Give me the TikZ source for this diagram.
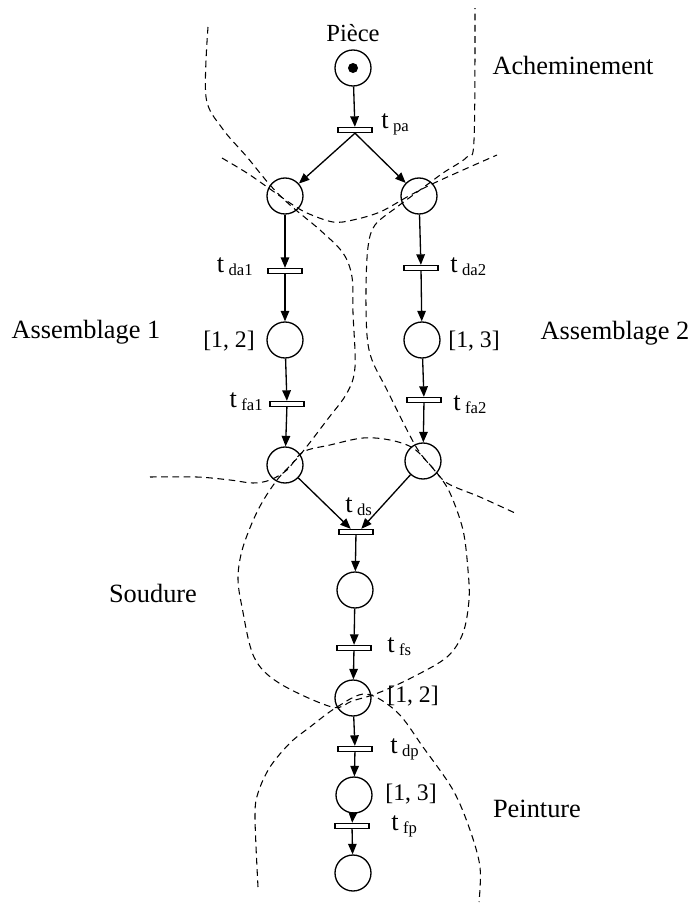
\documentclass[tikz,border=0pt]{standalone}
\usepackage{fontspec}
\setmainfont{Liberation Serif}
\usetikzlibrary{arrows.meta}
\tikzset{
  place/.style={circle, draw=black, line width=0.75pt, minimum size=0.72cm, inner sep=0pt},
  trans/.style={rectangle, draw=black, line width=0.75pt, minimum width=0.68cm, minimum height=0.1cm, inner sep=0pt},
  arr/.style={-{Triangle[length=2.1mm,width=1.7mm]}, line width=0.75pt},
  zone/.style={dash pattern=on 3.8pt off 2.6pt, line width=0.6pt},
  lab/.style={font=\fontsize{13.5}{15}\selectfont, inner sep=0pt},
  tlab/.style={font=\fontsize{15}{17}\selectfont, inner sep=0pt},
  region/.style={font=\fontsize{15}{18}\selectfont, inner sep=0pt},
}
\newcommand{\tname}[1]{t\,\raisebox{-0.3ex}{\fontsize{9.5}{10}\selectfont #1}}

\begin{document}
\begin{tikzpicture}[x=0.02cm, y=-0.02cm]
  \useasboundingbox (0,0) rectangle (691,903);
  % places
  \node[place] (p0) at (353,68) {};
  \fill (p0.center) circle[radius=0.1cm];
  \node[place] (pa1) at (285,196) {};
  \node[place] (pa2) at (419,196) {};
  \node[place] (pb1) at (285,340) {};
  \node[place] (pb2) at (422,340) {};
  \node[place] (pc1) at (285,465) {};
  \node[place] (pc2) at (423,461) {};
  \node[place] (ps) at (355,590) {};
  \node[place] (pq) at (353,698) {};
  \node[place] (pr) at (354,795) {};
  \node[place] (pe) at (353,873) {};
  % transitions
  \node[trans] (tpa) at (355,130) {};
  \node[trans] (tda1) at (285,271) {};
  \node[trans] (tda2) at (421,268) {};
  \node[trans] (tfa1) at (287,404) {};
  \node[trans] (tfa2) at (424,400) {};
  \node[trans] (tds) at (356,532) {};
  \node[trans] (tfs) at (354,648) {};
  \node[trans] (tdp) at (355,749) {};
  \node[trans] (tfp) at (352,826) {};
  % labels
  \node[lab, font=\fontsize{14}{16}\selectfont] (lp0) at (353,33) {Pièce};
  \node[tlab, anchor=base west] (ltpa) at (381,128) {\tname{pa}};
  \node[tlab, anchor=base east] (ltda1) at (253,272) {\tname{da1}};
  \node[tlab, anchor=base west] (ltda2) at (450,272) {\tname{da2}};
  \node[lab, anchor=east] (lpb1) at (255,341) {[1, 2]};
  \node[lab, anchor=west] (lpb2) at (448,341) {[1, 3]};
  \node[tlab, anchor=base east] (ltfa1) at (263,407) {\tname{fa1}};
  \node[tlab, anchor=base west] (ltfa2) at (453,410) {\tname{fa2}};
  \node[tlab, anchor=base west] (ltds) at (345,512) {\tname{ds}};
  \node[tlab, anchor=base west] (ltfs) at (387,652) {\tname{fs}};
  \node[lab, anchor=west] (lpq) at (387,696) {[1, 2]};
  \node[tlab, anchor=base west] (ltdp) at (390,753) {\tname{dp}};
  \node[lab, anchor=west] (lpr) at (385,794) {[1, 3]};
  \node[tlab, anchor=base west] (ltfp) at (391,830) {\tname{fp}};
  % regions
  \node[region] (rach) at (573,65) {Acheminement};
  \node[region] (ras1) at (86,332) {Assemblage 1};
  \node[region] (ras2) at (615,333) {Assemblage 2};
  \node[region] (rsou) at (153,593) {Soudure};
  \node[region] (rpei) at (537,809) {Peinture};
  % arcs
  \draw[arr] (p0) -- (tpa);
  \draw[arr] (tpa.south) -- (pa1);
  \draw[arr] (tpa.south) -- (pa2);
  \draw[arr] (pa1) -- (tda1);
  \draw[arr] (tda1) -- (pb1);
  \draw[arr] (pb1) -- (tfa1);
  \draw[arr] (tfa1) -- (pc1);
  \draw[arr] (pa2) -- (tda2);
  \draw[arr] (tda2) -- (pb2);
  \draw[arr] (pb2) -- (tfa2);
  \draw[arr] (tfa2) -- (pc2);
  \draw[arr] (pc1) -- ([xshift=-3pt]tds.north);
  \draw[arr] (pc2) -- ([xshift=3pt]tds.north);
  \draw[arr] (tds) -- (ps);
  \draw[arr] (ps) -- (tfs);
  \draw[arr] (tfs) -- (pq);
  \draw[arr] (pq) -- (tdp);
  \draw[arr] (tdp) -- (pr);
  \draw[arr] (pr) -- (tfp);
  \draw[arr] (tfp) -- (pe);
  % zone boundaries
  \draw[zone] plot[smooth, tension=0.55] coordinates {(208,27) (206,97) (222,128) (247,157) (270,185) (290,205) (320,230) (343,253) (352,277) (353,313) (355,367) (347,393) (327,420) (300,455) (277,480) (258,510) (243,547) (238,577) (242,607) (254,657) (279,683) (332,707) (352,701) (378,693) (413,677) (447,657) (463,633) (469,600) (468,570) (463,530) (450,493) (437,473) (420,453) (407,430) (387,390) (372,360) (367,335) (366,290) (368,247) (375,225) (397,207) (420,190) (443,173) (467,157) (474,140) (475,8)};
  \draw[zone] plot[smooth, tension=0.55] coordinates {(222,158) (247,173) (270,189) (290,203) (307,213) (333,222) (353,220) (380,212) (407,197) (430,185) (463,170) (497,155)};
  \draw[zone] plot[smooth, tension=0.55] coordinates {(150,477) (197,477) (230,480) (253,483) (270,480) (287,470) (303,452) (330,445) (363,438) (390,440) (413,448) (430,465) (447,483) (480,497) (515,513)};
  \draw[zone] plot[smooth, tension=0.55] coordinates {(258,887) (255,817) (258,793) (270,767) (290,743) (310,727) (337,707) (366,694) (397,712) (423,747) (453,790) (470,830) (480,867) (479,902)};
\end{tikzpicture}
\end{document}
